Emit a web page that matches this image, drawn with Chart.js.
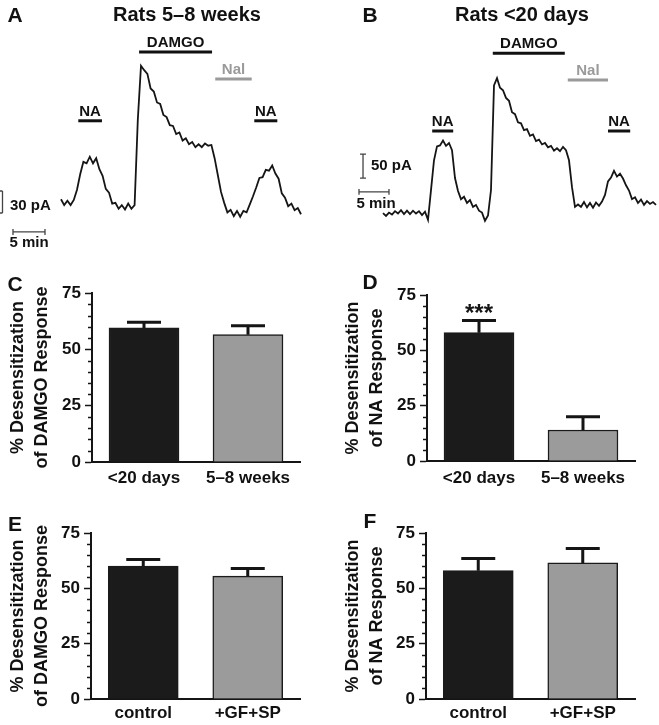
<!DOCTYPE html>
<html>
<head>
<meta charset="utf-8">
<script src="https://cdn.jsdelivr.net/npm/chart.js@4.4.1/dist/chart.umd.min.js"></script>
<style>
  body { margin: 0; background: #fff; }
  #fig { position: relative; width: 659px; height: 725px; overflow: hidden;
         font-family: "Liberation Sans", Arial, sans-serif; font-weight: bold; color: #111; }
  canvas { position: absolute; }
  .lbl { position: absolute; transform: translate(-50%, -50%); white-space: nowrap; line-height: 1; }
</style>
</head>
<body>
<div id="fig">
  <canvas id="trA" width="330" height="250" style="left:0;top:0"></canvas>
  <canvas id="trB" width="329" height="250" style="left:330px;top:0"></canvas>
  <canvas id="barC" width="330" height="240" style="left:0;top:255px"></canvas>
  <canvas id="barD" width="329" height="240" style="left:330px;top:255px"></canvas>
  <canvas id="barE" width="330" height="230" style="left:0;top:495px"></canvas>
  <canvas id="barF" width="329" height="230" style="left:330px;top:495px"></canvas>

  <div class="lbl" style="left:15px;top:14px;font-size:21px">A</div>
  <div class="lbl" style="left:187px;top:14px;font-size:20px">Rats 5–8 weeks</div>
  <div class="lbl" style="left:370px;top:14px;font-size:21px">B</div>
  <div class="lbl" style="left:522px;top:14px;font-size:20px">Rats &lt;20 days</div>
  <div class="lbl" style="left:15px;top:283px;font-size:21px">C</div>
  <div class="lbl" style="left:370px;top:281px;font-size:21px">D</div>
  <div class="lbl" style="left:15px;top:523px;font-size:21px">E</div>
  <div class="lbl" style="left:370px;top:520px;font-size:21px">F</div>
</div>

<script>
// ---- data ----
const sampleStep = 0.5; // min between trace samples

// holding current traces (pA), one sample every 0.5 min
const traceA = [12, 4, 10, 4, 11, 25, 46, 63, 61, 70, 61, 68, 53, 44, 26, 21, 6, 7, -1, 4,
  -2, 6, -1, 4, 120, 194, 188, 183, 163, 159, 144, 142, 127, 124, 113, 112, 101, 103, 92, 95,
  87, 90, 83, 87, 83, 88, 85, 86, 68, 45, 22, 7, -6, -2.5, -11, -4, -12, -4, -6, 5,
  16, 28, 41, 42, 52, 51, 58, 47, 40, 20, 14, 2.5, 6, -3, 0, -8.5];

const traceB = [4, -2, 5, 1, 8, 3, 10, 2, 9, 2, 9, 3, 8, 0, 7, -10,
  52, 114, 143, 145, 155, 144, 150, 135, 77, 50, 33, 38, 25, 31, 17, 21, 9, 5, -12, -1,
  52, 270, 285, 265, 260, 244, 238, 214, 210, 193, 191, 177, 179, 165, 168, 154, 157, 147, 150, 141,
  144, 134, 139, 133, 142, 135,
  114, 58, 17, 22, 17, 27, 16, 25, 15, 26, 19, 28, 42, 70, 78, 92, 80, 86, 76, 62,
  51, 33, 37, 25, 32, 21, 29, 23, 27, 21];

const drugNames = ['NA', 'DAMGO', 'Nal', 'NA'];
const drugOnA = [2.7, 12.2, 24.1, 30.2];
const drugOffA = [6.4, 23.6, 29.8, 33.8];
const drugOnB = [8.2, 18.3, 30.8, 37.5];
const drugOffB = [11.7, 30.3, 37.5, 41.2];

const scaleBarMin = 5;      // min
const scaleBarA = 30;       // pA
const scaleBarB = 50;       // pA

const ageGroups = ['<20 days', '5–8 weeks'];
const treatGroups = ['control', '+GF+SP'];
const damgoAgeMean = [59.5, 56.5];
const damgoAgeSem = [2.5, 4];
const naAgeMean = [58, 14];
const naAgeSem = [5.5, 6];
const damgoTreatMean = [60, 55.5];
const damgoTreatSem = [3, 3.5];
const naTreatMean = [58, 61.5];
const naTreatSem = [5.5, 6.5];
const naAgeStars = ['***', ''];

// ---- drawing ----
const FONT = '"Liberation Sans", Arial, sans-serif';
Chart.defaults.font.family = FONT;
Chart.defaults.color = '#111';
Chart.defaults.animation = false;

const traceText = {
  id: 'traceText',
  afterDatasetsDraw(chart, args, o) {
    const { ctx, scales: { x, y } } = chart;
    ctx.save();
    ctx.font = 'bold 15px ' + FONT;
    ctx.textBaseline = 'middle';
    o.drugs.forEach(d => {
      ctx.fillStyle = d.color;
      ctx.textAlign = 'center';
      ctx.fillText(d.text, (x.getPixelForValue(d.t0) + x.getPixelForValue(d.t1)) / 2,
        y.getPixelForValue(d.level) - 9);
    });
    o.texts.forEach(t => {
      ctx.fillStyle = '#111';
      ctx.textAlign = t.align;
      ctx.fillText(t.text, x.getPixelForValue(t.x), y.getPixelForValue(t.y));
    });
    ctx.restore();
  }
};

function makeTrace(id, c) {
  const gap = { x: 0, y: null };
  const datasets = [{
    data: c.trace.map((v, i) => ({ x: i * sampleStep, y: v })),
    borderColor: '#151515', borderWidth: 1.8
  }];
  c.on.forEach((t0, k) => {
    datasets.push({
      data: [{ x: t0, y: c.levels[k] }, { x: c.off[k], y: c.levels[k] }],
      borderColor: drugNames[k] === 'Nal' ? '#9a9a9a' : '#111', borderWidth: 3
    });
  });
  const v = c.vBar, h = c.hBar;
  datasets.push({
    data: [{ x: v.x - v.sl, y: v.y0 + c.amp }, { x: v.x + v.sr, y: v.y0 + c.amp }, gap,
      { x: v.x, y: v.y0 + c.amp }, { x: v.x, y: v.y0 }, gap,
      { x: v.x - v.sl, y: v.y0 }, { x: v.x + v.sr, y: v.y0 }],
    borderColor: '#444', borderWidth: 1.3
  });
  datasets.push({
    data: [{ x: h.x0, y: h.y - h.tk }, { x: h.x0, y: h.y + h.tk }, gap,
      { x: h.x0, y: h.y }, { x: h.x0 + scaleBarMin, y: h.y }, gap,
      { x: h.x0 + scaleBarMin, y: h.y - h.tk }, { x: h.x0 + scaleBarMin, y: h.y + h.tk }],
    borderColor: '#444', borderWidth: 1.3
  });
  new Chart(document.getElementById(id), {
    type: 'line',
    data: { datasets },
    options: {
      responsive: false,
      layout: { padding: 0 },
      elements: { point: { radius: 0 }, line: { tension: 0, borderCapStyle: 'butt' } },
      spanGaps: false,
      scales: {
        x: { type: 'linear', min: c.xMin, max: c.xMax, display: false },
        y: { type: 'linear', min: c.yMin, max: c.yMax, display: false }
      },
      plugins: {
        legend: { display: false }, tooltip: { enabled: false },
        traceText: {
          drugs: drugNames.map((n, k) => ({ text: n, t0: c.on[k], t1: c.off[k], level: c.levels[k],
            color: n === 'Nal' ? '#9a9a9a' : '#111' })),
          texts: [
            { text: c.amp + ' pA', x: c.ampText.x, y: c.ampText.y, align: 'left' },
            { text: scaleBarMin + ' min', x: c.minText.x, y: c.minText.y, align: 'center' }
          ]
        }
      }
    },
    plugins: [traceText]
  });
}

makeTrace('trA', {
  trace: traceA, on: drugOnA, off: drugOffA, levels: [119, 213, 176, 119], amp: scaleBarA,
  xMin: -9.53, xMax: 42.03, yMin: -57.3, yMax: 283.8,
  vBar: { x: -9.14, y0: -6.8, sl: 0.6, sr: 0 },
  hBar: { x0: -7.5, y: -32.7, tk: 4 },
  ampText: { x: -7.97, y: 3.5 }, minText: { x: -5, y: -47.7 }
});

makeTrace('trB', {
  trace: traceB, on: drugOnB, off: drugOffB, levels: [175, 337, 281, 175], amp: scaleBarB,
  xMin: -8.833, xMax: 46, yMin: -72.9, yMax: 447.9,
  vBar: { x: -3.33, y0: 77, sl: 0.5, sr: 0.5 },
  hBar: { x0: -4, y: 48, tk: 6 },
  ampText: { x: -2, y: 102 }, minText: { x: -1.17, y: 23 }
});

const errorBars = {
  id: 'errorBars',
  afterDatasetsDraw(chart, args, o) {
    const { ctx, scales: { y } } = chart;
    const meta = chart.getDatasetMeta(0);
    const vals = chart.data.datasets[0].data;
    ctx.save();
    ctx.strokeStyle = '#151515';
    ctx.lineWidth = 3;
    o.sem.forEach((e, i) => {
      const bx = meta.data[i].x;
      const y0 = y.getPixelForValue(vals[i]);
      const y1 = y.getPixelForValue(vals[i] + e);
      ctx.beginPath();
      ctx.moveTo(bx, y0); ctx.lineTo(bx, y1);
      ctx.moveTo(bx - 17, y1); ctx.lineTo(bx + 17, y1);
      ctx.stroke();
      if (o.stars && o.stars[i]) {
        ctx.fillStyle = '#151515';
        ctx.font = 'bold 24px ' + FONT;
        ctx.textAlign = 'center';
        ctx.textBaseline = 'alphabetic';
        ctx.fillText(o.stars[i], bx, y1 + 1);
      }
    });
    ctx.restore();
  }
};

const minorTicks = {
  id: 'minorTicks',
  afterDraw(chart) {
    const { ctx, scales: { y } } = chart;
    const x0 = y.right;
    ctx.save();
    ctx.strokeStyle = '#151515';
    ctx.lineWidth = 1.5;
    for (let v = 5; v < 75; v += 5) {
      if (v % 25 === 0) continue;
      const py = Math.round(y.getPixelForValue(v)) + 0.5;
      ctx.beginPath(); ctx.moveTo(x0 - 4, py); ctx.lineTo(x0, py); ctx.stroke();
    }
    ctx.restore();
  }
};

function makeBars(id, cats, mean, sem, o) {
  new Chart(document.getElementById(id), {
    type: 'bar',
    data: {
      labels: cats,
      datasets: [{ data: mean, backgroundColor: ['#1b1b1b', '#9b9b9b'], borderColor: '#1b1b1b',
        borderWidth: 1.5, barThickness: 70 }]
    },
    options: {
      responsive: false,
      layout: { padding: { top: o.top, right: o.right, left: 0, bottom: 0 } },
      plugins: { legend: { display: false }, tooltip: { enabled: false },
        errorBars: { sem, stars: o.stars } },
      scales: {
        x: {
          grid: { drawOnChartArea: false, drawTicks: false },
          border: { color: '#151515', width: 2 },
          ticks: { font: { size: 17, weight: 'bold' }, color: '#111', padding: o.xPad },
          afterFit: s => { s.height = o.xH; }
        },
        y: {
          min: 0, max: 75,
          ticks: { stepSize: 25, font: { size: 17, weight: 'bold' }, color: '#111', padding: 4 },
          grid: { drawOnChartArea: false, drawTicks: true, tickLength: 7, tickWidth: 1.5, tickColor: '#151515' },
          border: { color: '#151515', width: 2 },
          title: { display: true, text: o.title, color: '#111',
            font: { size: 18, weight: 'bold', lineHeight: 24 / 18 },
            padding: { top: o.titlePad, bottom: 0 } },
          afterFit: s => { s.width = o.yW; }
        }
      }
    },
    plugins: [errorBars, minorTicks]
  });
}

const titleDamgo = ['% Desensitization', 'of DAMGO Response'];
const titleNa = ['% Desensitization', 'of NA Response'];

makeBars('barC', ageGroups, damgoAgeMean, damgoAgeSem,
  { title: titleDamgo, top: 38, right: 30, yW: 92, xH: 33, xPad: 6, titlePad: 6 });
makeBars('barD', ageGroups, naAgeMean, naAgeSem,
  { title: titleNa, top: 40, right: 24, yW: 97, xH: 34, xPad: 7, titlePad: 11, stars: naAgeStars });
makeBars('barE', treatGroups, damgoTreatMean, damgoTreatSem,
  { title: titleDamgo, top: 38, right: 30, yW: 91, xH: 26, xPad: 4, titlePad: 6 });
makeBars('barF', treatGroups, naTreatMean, naTreatSem,
  { title: titleNa, top: 38, right: 24, yW: 96, xH: 26, xPad: 4, titlePad: 11 });
</script>
</body>
</html>
